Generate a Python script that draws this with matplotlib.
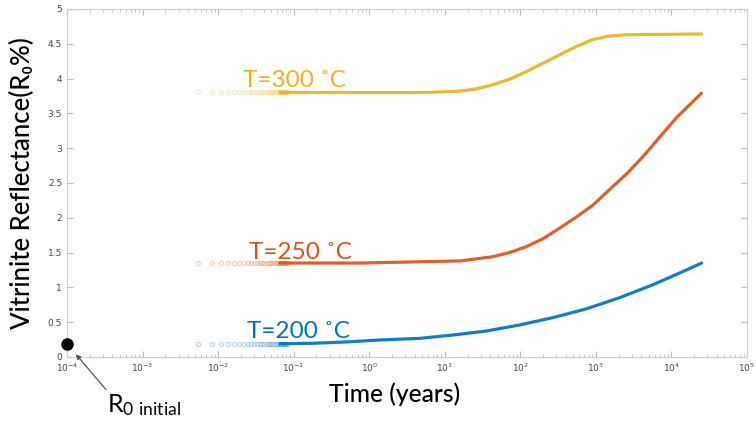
import matplotlib
matplotlib.use("Agg")
import matplotlib.pyplot as plt
import numpy as np

# colours (MATLAB default order)
blue, orange, yellow = "#0072BD", "#D95319", "#EDB120"

# simulation steps shown as dots (1 day steps, in days)
step_days = np.arange(2, 31)

# curves: time (years) and vitrinite reflectance (%)
t300 = [0.066, 0.76, 5.8, 16, 26, 43, 72, 120, 200, 330, 550, 910, 1500, 2600, 25000]
r300 = [3.80, 3.80, 3.80, 3.82, 3.85, 3.91, 3.99, 4.10, 4.22, 4.34, 4.46, 4.56, 4.61, 4.63, 4.64]

t250 = [0.066, 0.76, 16, 43, 72, 120, 200, 330, 550, 910, 1500, 2600, 4300, 7000, 11700, 25000]
r250 = [1.35, 1.35, 1.38, 1.44, 1.50, 1.585, 1.70, 1.85, 2.01, 2.18, 2.40, 2.64, 2.89, 3.16, 3.44, 3.79]

t200 = [0.066, 0.18, 0.50, 1.38, 4.7, 12.9, 35.5, 98, 269, 741, 2040, 5750, 15800, 25100]
r200 = [0.19, 0.197, 0.216, 0.244, 0.268, 0.316, 0.373, 0.46, 0.565, 0.69, 0.85, 1.04, 1.25, 1.35]

r_initial = 0.19
t_initial = 1e-4

curves = [
    ("T=300 \u02daC", yellow, t300, r300),
    ("T=250 \u02daC", orange, t250, r250),
    ("T=200 \u02daC", blue, t200, r200),
]
label_pos = [(0.0213, 3.88), (0.0255, 1.41), (0.024, 0.27)]

fig = plt.figure(figsize=(7.56, 4.26), dpi=100)
ax = fig.add_axes([0.0886, 0.162, 0.8995, 0.817])

for (name, c, t, r), (lx, ly) in zip(curves, label_pos):
    ax.plot(step_days / 365.0, np.full(len(step_days), r[0]), "o", ms=3.0,
            mfc="none", mec=c, mew=0.8, alpha=0.28)
    ax.plot(t, r, color=c, lw=2.3, solid_capstyle="round", solid_joinstyle="round", alpha=0.92)
    ax.text(lx, ly, name, color=c, fontsize=17.5, family="Lato", va="baseline")

ax.plot([t_initial], [r_initial], "o", color="black", ms=8, clip_on=False, zorder=5)

ax.set_xscale("log")
ax.set_xlim(1e-4, 1e5)
ax.set_xticks([10.0 ** k for k in range(-4, 6)])
ax.set_ylim(0, 5)
ax.set_yticks(np.arange(0, 5.01, 0.5))
ax.set_yticklabels(["0", "0.5", "1", "1.5", "2", "2.5", "3", "3.5", "4", "4.5", "5"])
ax.tick_params(which="both", direction="in", top=True, right=True, colors="#bbbbbb",
               labelcolor="#444444", labelsize=6.5, length=4)
ax.tick_params(which="minor", length=2)
for s in ax.spines.values():
    s.set_color("#cccccc")

ax.set_xlabel("Time (years)", fontsize=17.7, family="Lato", fontweight="medium", labelpad=6)
ax.xaxis.label.set_x(0.482)
ax.set_ylabel("Vitrinite Reflectance(R\u2080%)", fontsize=18.5, family="Lato",
              fontweight="medium", labelpad=9)

ax.annotate("", xy=(1.24e-4, 0.07), xytext=(3.48e-4, -0.50),
            arrowprops=dict(arrowstyle="-|>", color="#555555", lw=0.9, mutation_scale=7),
            annotation_clip=False)
ax.text(3.4e-4, -0.79, r"$\mathregular{R_{0\ initial}}$", fontsize=18, family="Lato",
        va="baseline", ha="left")

fig.savefig("out.png", dpi=100)
